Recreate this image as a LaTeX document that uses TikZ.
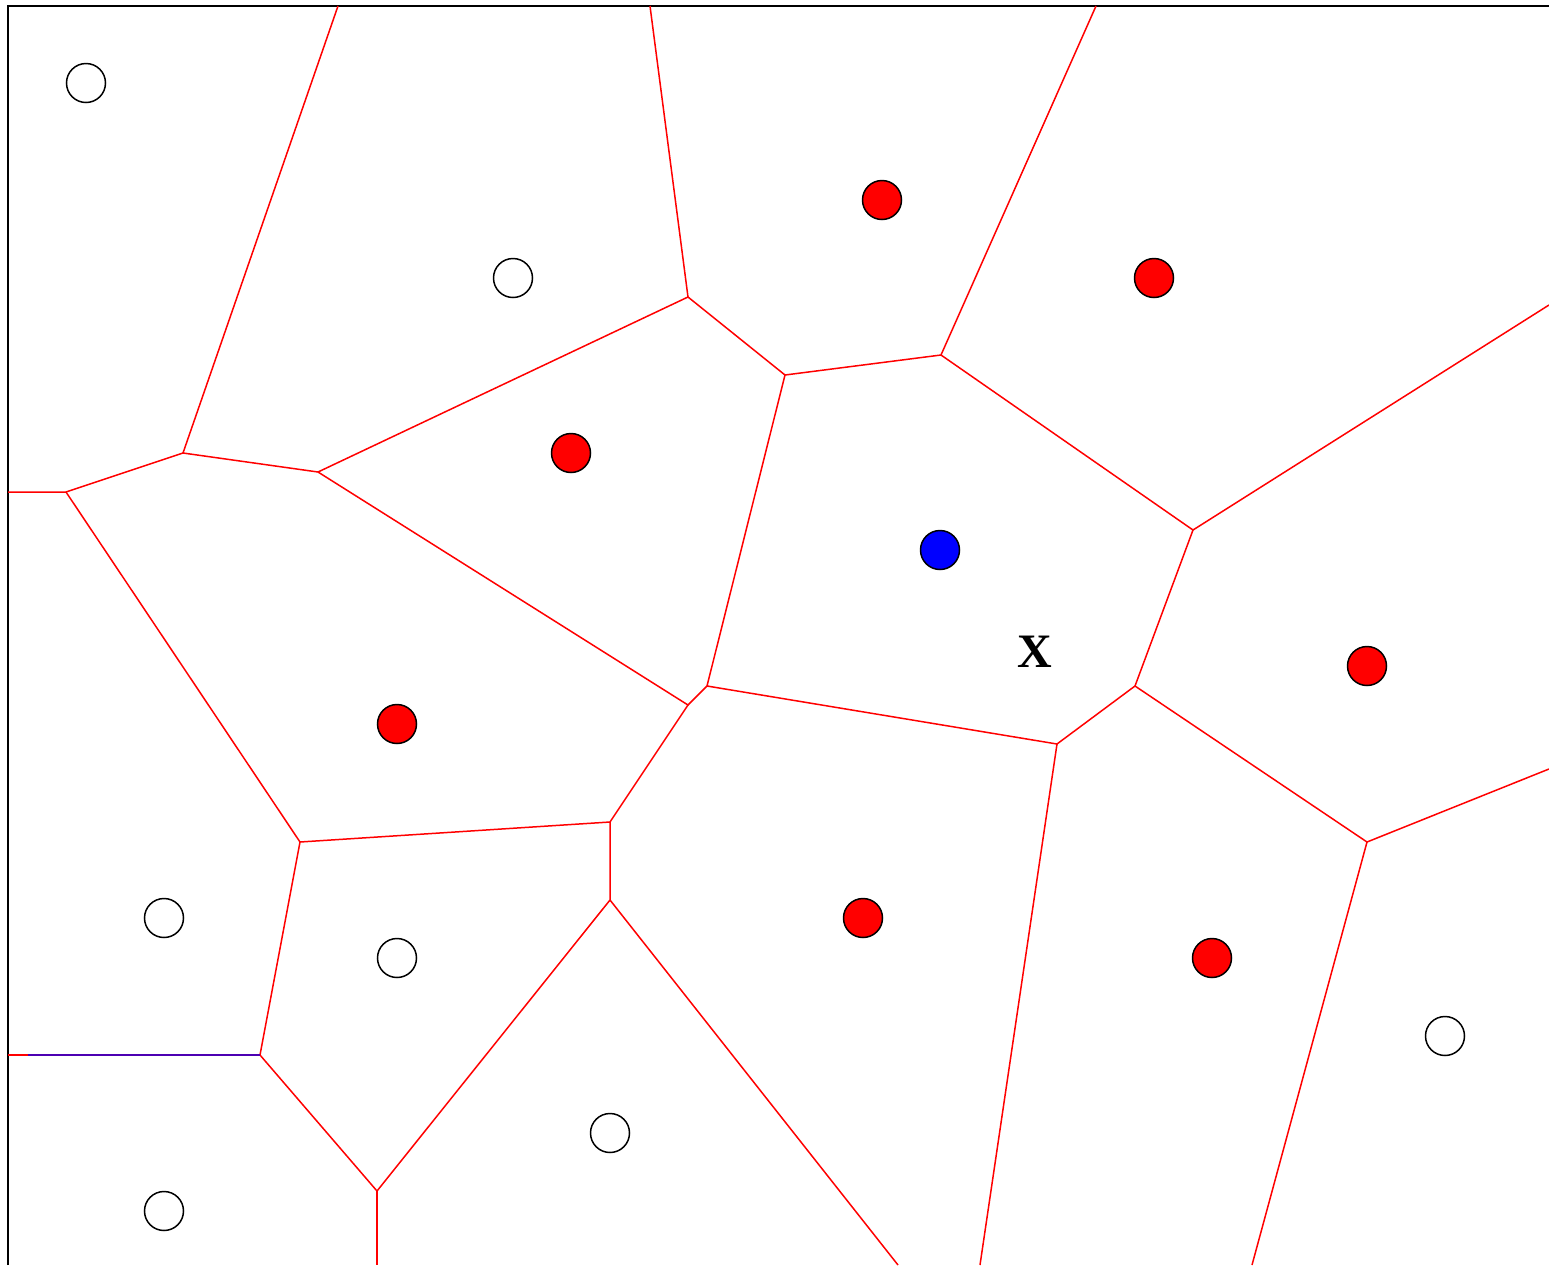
\documentclass[tikz,border=0pt]{standalone}
\usepackage{fontspec}
\setmainfont{Liberation Serif}
\begin{document}
\begin{tikzpicture}[x=0.5pt,y=-0.5pt,
  edge/.style={red,line width=0.75pt},
  hollow/.style={circle,draw=black,fill=white,line width=0.75pt,minimum size=19.5pt,inner sep=0pt},
  redsite/.style={circle,draw=black,fill=red,line width=0.75pt,minimum size=19.5pt,inner sep=0pt},
  bluesite/.style={circle,draw=black,fill=blue,line width=0.75pt,minimum size=19.5pt,inner sep=0pt}]
\useasboundingbox (0,0) rectangle (1549,1265);
% frame
\coordinate (fb) at (8,1265);
\coordinate (ftl) at (8,6);
\coordinate (ftr) at (1549,6);
\draw[black,line width=1pt] (fb) -- (ftl) -- (ftr);
% boundary points
\coordinate (t1) at (338,6);
\coordinate (t2) at (650,6);
\coordinate (t3) at (1096,6);
\coordinate (r1) at (1549,305);
\coordinate (r2) at (1549,769);
\coordinate (l1) at (8,492);
\coordinate (l2) at (8,1055);
\coordinate (l2b) at (28,1055);
\coordinate (b1) at (377,1265);
\coordinate (b2) at (898,1265);
\coordinate (b3) at (980,1265);
\coordinate (b4) at (1252,1265);
% vertices
\coordinate (A) at (183,453);
\coordinate (B) at (318,472);
\coordinate (C) at (66,492);
\coordinate (D) at (688,297);
\coordinate (E) at (785,375);
\coordinate (F) at (941,355);
\coordinate (G) at (1193,530);
\coordinate (H) at (1135,686);
\coordinate (I) at (1057,744);
\coordinate (J) at (707,686);
\coordinate (K) at (688,705);
\coordinate (L) at (610,822);
\coordinate (M) at (300,842);
\coordinate (N) at (610,900);
\coordinate (O) at (260,1055);
\coordinate (P) at (377,1191);
\coordinate (Q) at (1367,842);
% edges
\draw[edge] (t1) -- (A);
\draw[edge] (t2) -- (D);
\draw[edge] (t3) -- (F);
\draw[edge] (r1) -- (G);
\draw[edge] (r2) -- (Q);
\draw[edge] (l1) -- (C) -- (A) -- (B) -- (D) -- (E) -- (F) -- (G) -- (H) -- (I) -- (J) -- (E);
\draw[edge] (J) -- (K) -- (B);
\draw[edge] (K) -- (L) -- (M) -- (C);
\draw[edge] (L) -- (N) -- (P) -- (O) -- (M);
\draw[edge] (O) -- (l2);
\draw[blue!70!red,line width=0.6pt] (l2b) -- (O);
\draw[edge] (P) -- (b1);
\draw[edge] (N) -- (b2);
\draw[edge] (I) -- (b3);
\draw[edge] (H) -- (Q) -- (b4);
% sites
\node[hollow] (h1) at (86,83) {};
\node[hollow] (h2) at (513,278) {};
\node[hollow] (h3) at (164,918) {};
\node[hollow] (h4) at (397,958) {};
\node[hollow] (h5) at (610,1133) {};
\node[hollow] (h6) at (164,1211) {};
\node[hollow] (h7) at (1445,1036) {};
\node[redsite] (s1) at (882,200) {};
\node[redsite] (s2) at (1154,278) {};
\node[redsite] (s3) at (571,453) {};
\node[redsite] (s4) at (397,724) {};
\node[redsite] (s5) at (1367,666) {};
\node[redsite] (s6) at (863,918) {};
\node[redsite] (s7) at (1212,958) {};
\node[bluesite] (q) at (940,550) {};
\node[font=\fontsize{24}{28}\selectfont\bfseries,inner sep=0pt] (x) at (1035,652) {X};
\end{tikzpicture}
\end{document}
